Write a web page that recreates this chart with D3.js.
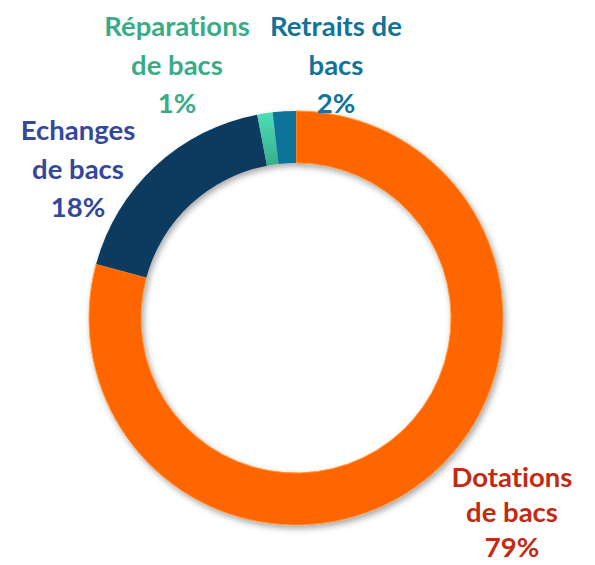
<!DOCTYPE html>
<html>
<head>
<meta charset="utf-8">
<script src="https://cdn.jsdelivr.net/npm/d3@7"></script>
<style>
  html, body { margin: 0; padding: 0; background: #ffffff; }
  svg { display: block; }
  text { font-variant-ligatures: none; font-feature-settings: "liga" 0; }
</style>
</head>
<body>
<svg id="chart" width="595" height="565"></svg>
<script>
// ---- data ----
const categories = ["Dotations de bacs", "Echanges de bacs", "Réparations de bacs", "Retraits de bacs"];
const values = [79.2, 17.8, 1.2, 1.8];
const labelLines = [["Dotations", "de bacs"], ["Echanges", "de bacs"], ["Réparations", "de bacs"], ["Retraits de", "bacs"]];
const sliceColors = ["#FF6600", "#0A3A60", "#45D4AE", "#0E739A"];
const labelColors = ["#C22A12", "#33489C", "#38AC86", "#11729A"];

// ---- layout ----
const W = 595, H = 565;
const cx = 296, cy = 318;
const outerR = 207, innerR = 155;
// label anchor positions (centre x, first baseline y)
const labelPos = [[512, 487], [78, 140], [177, 36], [336, 36]];
const lineGap = [35, 38.5, 38.5, 38.5];

const svg = d3.select("#chart");
const defs = svg.append("defs");
const f = defs.append("filter").attr("id", "shadow")
  .attr("x", "-20%").attr("y", "-20%").attr("width", "140%").attr("height", "140%");
f.append("feDropShadow").attr("dx", 2).attr("dy", 3).attr("stdDeviation", 3)
  .attr("flood-color", "#000").attr("flood-opacity", 0.35);

const g1 = defs.append("linearGradient").attr("id", "gGreen")
  .attr("x1", 0).attr("y1", 0).attr("x2", 0).attr("y2", 1);
g1.append("stop").attr("offset", "0%").attr("stop-color", "#4EDDB7");
g1.append("stop").attr("offset", "100%").attr("stop-color", "#35AF8C");

const pie = d3.pie().sort(null).value(d => d).startAngle(0).endAngle(2 * Math.PI);
const arc = d3.arc().innerRadius(innerR).outerRadius(outerR);
const arcs = pie(values);

const ring = svg.append("g").attr("transform", `translate(${cx},${cy})`).attr("filter", "url(#shadow)");
ring.selectAll("path").data(arcs).join("path")
  .attr("d", arc)
  .attr("fill", (d, i) => i === 2 ? "url(#gGreen)" : sliceColors[i])
  .attr("stroke", (d, i) => i === 0 ? "#FF9A40" : "none")
  .attr("stroke-width", 1);

const pctFmt = v => Math.round(v) + "%";

const labels = svg.append("g").attr("font-family", "Lato, 'Open Sans', sans-serif")
  .attr("font-weight", "bold").attr("font-size", 27.5).attr("text-anchor", "middle");
labels.selectAll("text").data(arcs).join("text")
  .attr("fill", (d, i) => labelColors[i])
  .each(function (d, i) {
    const t = d3.select(this);
    const lines = labelLines[i].concat([pctFmt(values[i])]);
    lines.forEach((s, k) => {
      t.append("tspan").attr("x", labelPos[i][0]).attr("y", labelPos[i][1] + k * lineGap[i]).text(s);
    });
  });
</script>
</body>
</html>
